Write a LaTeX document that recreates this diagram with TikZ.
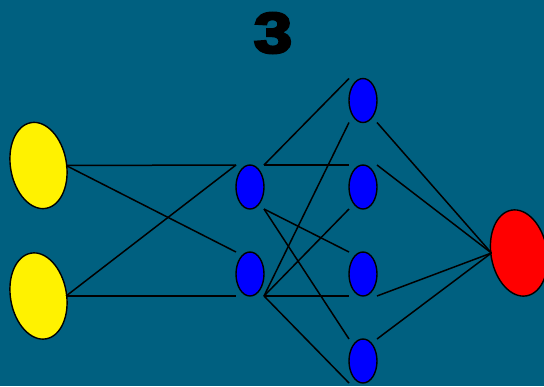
\documentclass[tikz,border=0pt]{standalone}
\usepackage{fontspec}
\usepackage{tikz}
\usetikzlibrary{shapes.geometric}
\newfontfamily\heavyfont{Liberation Sans}[BoldFeatures={FakeBold=4.5}]
\definecolor{slidebg}{RGB}{0,96,128}

\begin{document}
\begin{tikzpicture}[x=1pt,y=-1pt,
    unit/.style={ellipse,draw=black,line width=1.4pt,inner sep=0pt,outer sep=0pt},
    inunit/.style={unit,fill=yellow,minimum width=56pt,minimum height=87pt,rotate=10},
    hidunit/.style={unit,fill=blue,minimum width=28pt,minimum height=44pt},
    outunit/.style={unit,fill=red,minimum width=56pt,minimum height=87pt,rotate=10},
    link/.style={line width=1.5pt,black}]
  \fill[slidebg] (0,0) rectangle (544,386);
  \useasboundingbox (0,0) rectangle (544,386);
  \node[font=\fontsize{57}{62}\selectfont\heavyfont\bfseries,xscale=1.2] (title) at (273,33) {3};
  % input layer
  \node[inunit] (in1) at (38.5,165.5) {};
  \node[inunit] (in2) at (38.5,296) {};
  % first hidden layer
  \node[hidunit] (h1) at (250,187) {};
  \node[hidunit] (h2) at (250,274) {};
  % second hidden layer
  \node[hidunit] (n1) at (363,100.5) {};
  \node[hidunit] (n2) at (363,187) {};
  \node[hidunit] (n3) at (363,274) {};
  \node[hidunit] (n4) at (363,361) {};
  % output
  \node[outunit] (out) at (519,253) {};
  % input -> first hidden
  \draw[link] (in1.center -| in1.east) -- (h1.north -| h1.west);
  \draw[link] (in1.center -| in1.east) -- (h2.north -| h2.west);
  \draw[link] (in2.center -| in2.east) -- (h1.north -| h1.west);
  \draw[link] (in2.center -| in2.east) -- (h2.south -| h2.west);
  % first hidden -> second hidden
  \draw[link] (h1.north -| h1.east) -- (n1.north -| n1.west);
  \draw[link] (h1.north -| h1.east) -- (n2.north -| n2.west);
  \draw[link] (h1.south -| h1.east) -- (n3.north -| n3.west);
  \draw[link] (h1.south -| h1.east) -- (n4.north -| n4.west);
  \draw[link] (h2.south -| h2.east) -- (n1.south -| n1.west);
  \draw[link] (h2.south -| h2.east) -- (n2.south -| n2.west);
  \draw[link] (h2.south -| h2.east) -- (n3.south -| n3.west);
  \draw[link] (h2.south -| h2.east) -- (n4.south -| n4.west);
  % second hidden -> output
  \draw[link] (n1.south -| n1.east) -- (out.center -| out.west);
  \draw[link] (n2.north -| n2.east) -- (out.center -| out.west);
  \draw[link] (n3.south -| n3.east) -- (out.center -| out.west);
  \draw[link] (n4.north -| n4.east) -- (out.center -| out.west);
\end{tikzpicture}
\end{document}
